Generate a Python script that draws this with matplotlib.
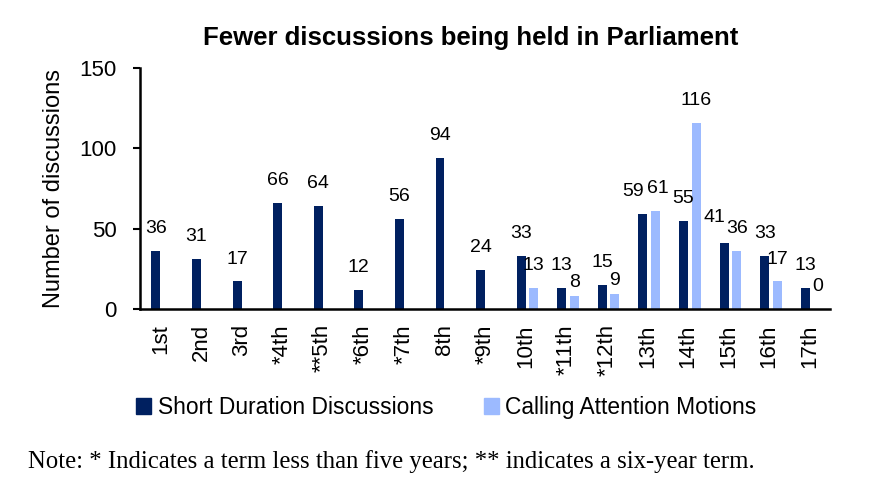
import numpy as np
import matplotlib.pyplot as plt
from matplotlib.patches import Patch

terms = ["1st", "2nd", "3rd", "*4th", "**5th", "*6th", "*7th", "8th", "*9th",
         "10th", "*11th", "*12th", "13th", "14th", "15th", "16th", "17th"]
short_duration = [36, 31, 17, 66, 64, 12, 56, 94, 24, 33, 13, 15, 59, 55, 41, 33, 13]
calling_attention = [np.nan] * 9 + [13, 8, 9, 61, 116, 36, 17, 0]

DARK = "#002060"
LIGHT = "#9cbaff"

plt.rcParams["font.family"] = ["Liberation Sans", "DejaVu Sans"]

# label nudges (points) where the original moved labels to keep them apart
dark_nudge = {12: (-7, 0), 14: (-7, 2)}
light_nudge = {10: (0, -6.5), 11: (0, -6.5), 12: (2, 0)}

fig = plt.figure(figsize=(8.7, 4.87), dpi=100)
ax = fig.add_axes([0.161, 0.366, 0.793, 0.494])

x = np.arange(len(terms))
w = 0.22
ax.bar(x - 0.11, short_duration, width=w, color=DARK)
ax.bar(x + 0.2, calling_attention, width=w, color=LIGHT)

# value labels above the bars
for i, (xi, v) in enumerate(zip(x - 0.11, short_duration)):
    dx, dy = dark_nudge.get(i, (0, 0))
    ax.annotate(f"{v}", (xi, v), xytext=(dx, 10 + dy), textcoords="offset points",
                ha="center", va="bottom", fontsize=14)
for i, (xi, v) in enumerate(zip(x + 0.2, calling_attention)):
    if np.isnan(v):
        continue
    dx, dy = light_nudge.get(i, (0, 0))
    ax.annotate(f"{int(v)}", (xi, v), xytext=(dx, 10 + dy), textcoords="offset points",
                ha="center", va="bottom", fontsize=14)

ax.set_xlim(-0.5, len(terms) - 0.5)
ax.set_ylim(0, 150)
ax.set_yticks([0, 50, 100, 150])
ax.tick_params(axis="y", labelsize=16, length=5, width=1.5, pad=12)
ax.set_xticks(x)
ax.set_xticklabels(terms, rotation=90, fontsize=16)
ax.tick_params(axis="x", length=0, pad=11)

for s in ["top", "right"]:
    ax.spines[s].set_visible(False)
for s in ["left", "bottom"]:
    ax.spines[s].set_linewidth(1.8)

ax.set_ylabel("Number of discussions", fontsize=17, labelpad=10)
fig.text(0.541, 0.922, "Fewer discussions being held in Parliament",
         ha="center", va="center", fontsize=18.5, fontweight="bold")

handles = [Patch(color=DARK), Patch(color=LIGHT)]
fig.legend(handles, ["Short Duration Discussions", "Calling Attention Motions"],
           loc="center", bbox_to_anchor=(0.513, 0.163), ncol=2, frameon=False,
           fontsize=16.4, handlelength=0.66, handleheight=0.66, handletextpad=0.28,
           columnspacing=2.2, borderpad=0.2)

fig.text(0.032, 0.052, "Note: * Indicates a term less than five years; ** indicates a six-year term.",
         ha="left", va="center", fontsize=17.8, family=["Liberation Serif", "DejaVu Serif"])

fig.savefig("out.png", dpi=100)
